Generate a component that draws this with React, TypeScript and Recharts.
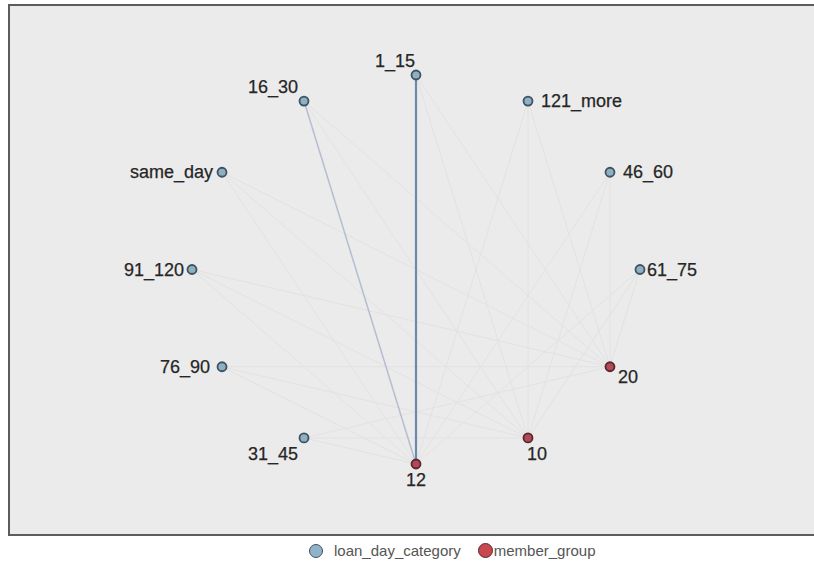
// 원형 배치 웹 그래프: 대출기간 범주(loan_day_category)와 회원그룹(member_group) 연결
import { Scatter, ScatterChart, XAxis, YAxis } from 'recharts'

// loan_day_category 노드 (타원 위 좌표, -1..1)
const loanNames = ['1_15', '121_more', '46_60', '61_75', '31_45', '76_90', '91_120', 'same_day', '16_30']
const loanX = [0, 0.5, 0.866, 1, -0.5, -0.866, -1, -0.866, -0.5]
const loanY = [1, 0.866, 0.5, 0, -0.866, -0.5, 0, 0.5, 0.866]

// member_group 노드
const memberNames = ['20', '10', '12']
const memberX = [0.866, 0.5, 0]
const memberY = [-0.5, -0.866, -1]

// 연결 강도 (member 별, loanNames 순서)
const linkWeights: Record<string, number[]> = {
  '12': [3, 1, 1, 1, 1, 1, 1, 1, 2],
  '10': [1, 1, 1, 1, 1, 1, 1, 1, 1],
  '20': [1, 1, 1, 1, 1, 1, 1, 1, 1],
}

const loanNodes = loanNames.map((name, i) => ({ name, x: loanX[i], y: loanY[i] }))
const memberNodes = memberNames.map((name, i) => ({ name, x: memberX[i], y: memberY[i] }))

const edges = memberNodes.flatMap((m) =>
  loanNodes.map((l, i) => ({ key: `${m.name}-${l.name}`, weight: linkWeights[m.name][i], points: [m, l] }))
)

// 라벨 위치 (노드 기준 오프셋)
const labelPlace: Record<string, { dx: number; dy: number; anchor: 'start' | 'middle' | 'end' }> = {
  '1_15': { dx: -1, dy: -8, anchor: 'end' },
  '16_30': { dx: -6, dy: -8, anchor: 'end' },
  same_day: { dx: -9, dy: 6, anchor: 'end' },
  '91_120': { dx: -8, dy: 6, anchor: 'end' },
  '76_90': { dx: -12, dy: 6, anchor: 'end' },
  '31_45': { dx: -6, dy: 22, anchor: 'end' },
  '12': { dx: 0, dy: 22, anchor: 'middle' },
  '10': { dx: -1, dy: 22, anchor: 'start' },
  '20': { dx: 8, dy: 16, anchor: 'start' },
  '61_75': { dx: 7, dy: 6, anchor: 'start' },
  '46_60': { dx: 13, dy: 6, anchor: 'start' },
  '121_more': { dx: 13, dy: 6, anchor: 'start' },
}

const edgeStyle = (w: number) => {
  if (w >= 3) return { stroke: '#6d88a8', strokeWidth: 2.2 }
  if (w === 2) return { stroke: '#b5bdd2', strokeWidth: 1.5 }
  return { stroke: '#e2e2e2', strokeWidth: 1 }
}

const makeNode = (fill: string, stroke: string) => (props: any) => {
  const { cx, cy, payload } = props
  const p = labelPlace[payload.name]
  return (
    <g>
      <circle cx={cx} cy={cy} r={4.5} fill={fill} stroke={stroke} strokeWidth={1.8} />
      <text x={cx + p.dx} y={cy + p.dy} textAnchor={p.anchor} fontSize={18} fill="#262626"
        stroke="#262626" strokeWidth={0.25} fontFamily="'Liberation Sans', Arial, sans-serif">
        {payload.name}
      </text>
    </g>
  )
}

const NoDot = () => <g />

export default function App() {
  return (
    <div style={{ position: 'absolute', left: 0, top: 0, width: 814, height: 565, overflow: 'hidden', background: '#fff' }}>
      {/* 외곽 프레임 (오른쪽 테두리는 화면 밖) */}
      <div style={{ position: 'absolute', left: 8, top: 4, width: 820, height: 528, background: '#ebebeb', border: '2px solid #5c5c5c', borderRight: 'none' }} />
      <div style={{ position: 'absolute', left: 0, top: 0 }}>
        <ScatterChart width={814} height={565} margin={{ top: 75, right: 174, bottom: 101, left: 192 }}>
          <XAxis type="number" dataKey="x" domain={[-1, 1]} hide />
          <YAxis type="number" dataKey="y" domain={[-1, 1]} hide />
          {edges.map((e) => (
            <Scatter key={e.key} data={e.points} line={edgeStyle(e.weight)} shape={NoDot}
              legendType="none" isAnimationActive={false} />
          ))}
          <Scatter name="loan_day_category" data={loanNodes} shape={makeNode('#8fb0c3', '#3e5260')} isAnimationActive={false} />
          <Scatter name="member_group" data={memberNodes} shape={makeNode('#b04a58', '#5a2630')} isAnimationActive={false} />
        </ScatterChart>
      </div>
      {/* 범례 */}
      <div style={{ position: 'absolute', top: 542, left: 309, display: 'flex', alignItems: 'center', fontFamily: "'Liberation Sans', Arial, sans-serif", fontSize: 15, color: '#555' }}>
        <span style={{ width: 12, height: 12, borderRadius: '50%', background: '#8fb3c9', border: '1.5px solid #3e5260', marginRight: 11 }} />
        <span style={{ marginRight: 17 }}>loan_day_category</span>
        <span style={{ width: 13, height: 13, borderRadius: '50%', background: '#c9484f', border: '1.5px solid #5a2630', marginRight: 1 }} />
        <span>member_group</span>
      </div>
    </div>
  )
}
